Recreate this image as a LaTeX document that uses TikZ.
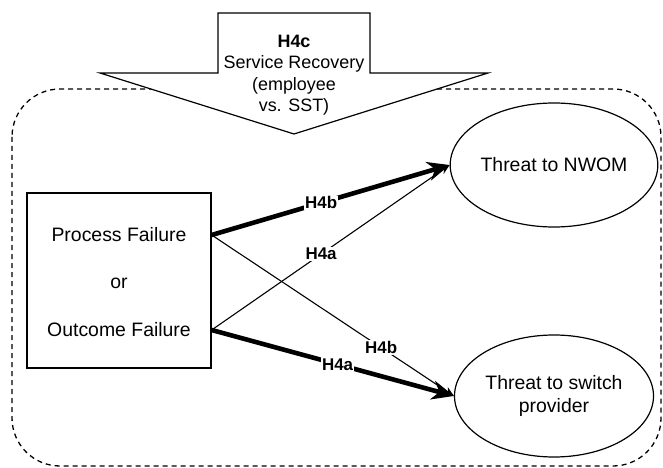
\documentclass[tikz,border=0pt]{standalone}
\usepackage{fontspec}
\setmainfont{Liberation Sans}
\usetikzlibrary{shapes.geometric,arrows.meta}
\tikzset{
  maintext/.style={font=\fontsize{19.5}{24}\selectfont, inner sep=0pt},
  hyplabel/.style={font=\bfseries\fontsize{17}{19}\selectfont, fill=white, inner sep=1bp},
  thinarrow/.style={line width=1.1bp, -{Stealth[length=10bp,width=8bp]}},
  thickarrow/.style={line width=4.6bp, -{Stealth[length=22bp,width=19bp,inset=7bp]}},
  outcome/.style={ellipse, draw, line width=1.2bp, inner sep=0pt, align=center, font=\fontsize{19.5}{24}\selectfont},
  failbox/.style={rectangle, draw, line width=1.3bp, inner sep=0pt},
  scopebox/.style={draw, line width=1.3bp, dash pattern=on 5bp off 4bp, rounded corners=48bp}
}
\begin{document}
\begin{tikzpicture}[x=1bp,y=-1bp]
\useasboundingbox (0,0) rectangle (663,468);
% dashed scope
\draw[scopebox] (12,89) rectangle (661,466);
% big arrow
\draw[line width=1.2bp, fill=white, line join=miter]
  (218,13) -- (370,13) -- (370,73) -- (488,73) -- (294,134) -- (100,73) -- (218,73) -- cycle;
\node[align=center, font=\fontsize{18}{21.5}\selectfont, inner sep=0pt] (h4c) at (294,75)
  {\textbf{H4c}\\Service Recovery\\(employee\\vs. SST)};
% failure box
\node[failbox, minimum width=184bp, minimum height=175bp] (pf) at (119,280.5) {};
\node[maintext] (ptext) at (119,235) {Process Failure};
\node[maintext] (ortext) at (119,283) {or};
\node[maintext] (otext) at (119,330) {Outcome Failure};
% outcomes
\node[outcome, minimum width=199bp, minimum height=124bp] (nwom) at (554,165) {Threat to NWOM};
\node[outcome, minimum width=199bp, minimum height=122bp] (switch) at (554,396) {Threat to switch\\provider};
% connectors
\draw[thinarrow] (pf.east |- otext) -- (nwom.west) node[hyplabel, pos=0.46] {H4a};
\draw[thinarrow] (pf.east |- ptext) -- (switch.west) node[hyplabel, pos=0.70] {H4b};
\draw[thickarrow] (pf.east |- ptext) -- (nwom.west) node[hyplabel, pos=0.46] {H4b};
\draw[thickarrow] (pf.east |- otext) -- (switch.west) node[hyplabel, pos=0.52] {H4a};
\end{tikzpicture}
\end{document}
